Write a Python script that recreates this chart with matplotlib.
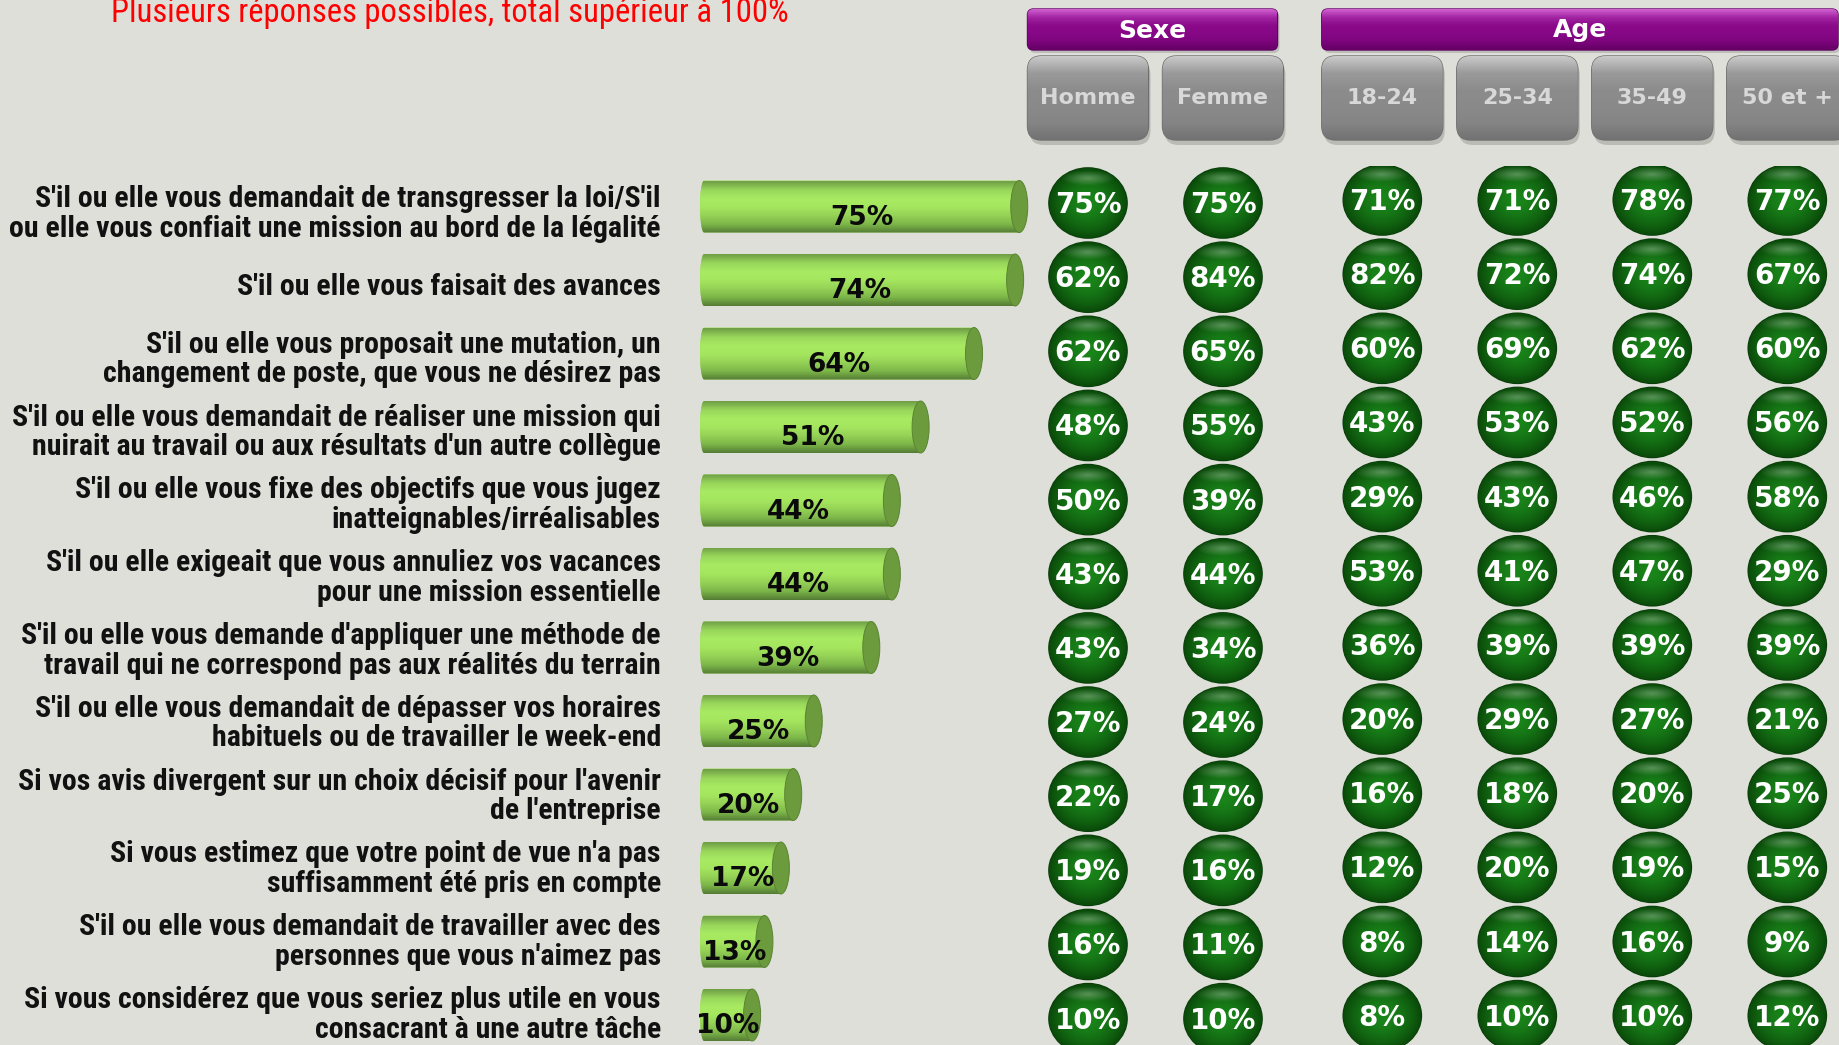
import matplotlib

matplotlib.use("Agg")
import matplotlib.pyplot as plt
import numpy as np
from matplotlib import font_manager
from matplotlib.colors import to_rgb
from matplotlib.patches import Ellipse, FancyBboxPatch, Polygon

# --- données --------------------------------------------------------------
questions = [
    "S'il ou elle vous demandait de transgresser la loi/S'il\nou elle vous confiait une mission au bord de la légalité",
    "S'il ou elle vous faisait des avances",
    "S'il ou elle vous proposait une mutation, un\nchangement de poste, que vous ne désirez pas",
    "S'il ou elle vous demandait de réaliser une mission qui\nnuirait au travail ou aux résultats d'un autre collègue",
    "S'il ou elle vous fixe des objectifs que vous jugez\ninatteignables/irréalisables",
    "S'il ou elle exigeait que vous annuliez vos vacances\npour une mission essentielle",
    "S'il ou elle vous demande d'appliquer une méthode de\ntravail qui ne correspond pas aux réalités du terrain",
    "S'il ou elle vous demandait de dépasser vos horaires\nhabituels ou de travailler le week-end",
    "Si vos avis divergent sur un choix décisif pour l'avenir\nde l'entreprise",
    "Si vous estimez que votre point de vue n'a pas\nsuffisamment été pris en compte",
    "S'il ou elle vous demandait de travailler avec des\npersonnes que vous n'aimez pas",
    "Si vous considérez que vous seriez plus utile en vous\nconsacrant à une autre tâche",
]
total = [75, 74, 64, 51, 44, 44, 39, 25, 20, 17, 13, 10]

homme = [75, 62, 62, 48, 50, 43, 43, 27, 22, 19, 16, 10]
femme = [75, 84, 65, 55, 39, 44, 34, 24, 17, 16, 11, 10]
age_18_24 = [71, 82, 60, 43, 29, 53, 36, 20, 16, 12, 8, 8]
age_25_34 = [71, 72, 69, 53, 43, 41, 39, 29, 18, 20, 14, 10]
age_35_49 = [78, 74, 62, 52, 46, 47, 39, 27, 20, 19, 16, 10]
age_50_plus = [77, 67, 60, 56, 58, 29, 39, 21, 25, 15, 9, 12]

col_labels = ["Homme", "Femme", "18-24", "25-34", "35-49", "50 et +"]
col_values = [homme, femme, age_18_24, age_25_34, age_35_49, age_50_plus]
group_labels = ["Sexe", "Age"]
group_sizes = [2, 4]
subtitle = "Plusieurs réponses possibles, total supérieur à 100%"

# --- mise en page (pixels de la figure) -------------------------------------
W, H = 1840, 1045
BG = "#dfdfda"
BAR_ROW0, BAR_ROW_H = 206.5, 73.5     # barres : centre 1re ligne, pas
CIRC_ROW0, CIRC_ROW_H = 203, 74.15    # bulles
LBL_ROW0, LBL_ROW_H, LBL_RIGHT = 214, 72.8, 661
BAR_ZERO, PX_PCT = 711, 4.11          # x du 0 %, pixels par point de %
COL0, COL_PX, GROUP_GAP = 1088, 135, 0.18
AGE_DY = -3                           # bulles "Age" un peu plus hautes


def pick_font(names):
    for n in names:
        try:
            font_manager.findfont(n, fallback_to_default=False)
            return n
        except ValueError:
            pass
    return "DejaVu Sans"


NARROW = pick_font(["Liberation Sans Narrow", "DejaVu Sans Condensed", "Roboto Condensed"])
BOLD = "DejaVu Sans"

fig = plt.figure(figsize=(W / 100, H / 100), dpi=100)
fig.patch.set_facecolor(BG)


def px_axes(left, right, top, bottom):
    ax = fig.add_axes([left / W, 1 - bottom / H, (right - left) / W, (bottom - top) / H])
    ax.set_axis_off()
    ax.patch.set_alpha(0)
    return ax


def vgrad(stops, n=64):
    cols = np.array([to_rgb(c) for c in stops])
    t = np.linspace(0, 1, n)
    xs = np.linspace(0, 1, len(stops))
    return np.stack([np.interp(t, xs, cols[:, k]) for k in range(3)], axis=-1)[:, None, :]


def shaded(ax, patch, stops, extent, z):
    patch.set_zorder(z)
    ax.add_patch(patch)
    im = ax.imshow(vgrad(stops), extent=extent, aspect="auto", origin="upper",
                   interpolation="bilinear", zorder=z + 0.1)
    im.set_clip_path(patch)


ax_bg = px_axes(0, W, 0, H)
ax_bg.set_xlim(0, W); ax_bg.set_ylim(H, 0)

n_rows = len(questions)

# --- libellés des questions ----------------------------------------------
for i, q in enumerate(questions):
    ax_bg.text(LBL_RIGHT, LBL_ROW0 + i * LBL_ROW_H, q, ha="right", va="center",
               multialignment="right", fontsize=21.5, weight="bold", family=NARROW,
               color="#111111", linespacing=1.08)

# --- barres cylindriques "Total" ------------------------------------------
BAR_AX_LEFT, BAR_AX_RIGHT = 600, 1060
top_px = BAR_ROW0 - BAR_ROW_H / 2
ax_bar = px_axes(BAR_AX_LEFT, BAR_AX_RIGHT, top_px, top_px + n_rows * BAR_ROW_H)
bar_h = 52 / BAR_ROW_H
x_left = -7 / PX_PCT
round_w = 4 / PX_PCT
cap_w = 17 / PX_PCT
bar_stops = ["#6f9e46", "#98d65a", "#a8ea62", "#a5e65f", "#95d256", "#7db749", "#557d35"]
for i, v in enumerate(total):
    t0, t1 = i - bar_h / 2, i + bar_h / 2
    th = np.linspace(np.pi / 2, 3 * np.pi / 2, 20)
    left_arc = [(x_left + round_w * np.cos(a), i - (bar_h / 2) * np.sin(a)) for a in th]
    verts = [(v, t0)] + left_arc + [(v, t1)]
    body = Polygon(verts, closed=True, facecolor="#9edc5c", edgecolor="none")
    shaded(ax_bar, body, bar_stops, (x_left - round_w, v, t1, t0), 2)
    cap = Ellipse((v, i), cap_w, bar_h, facecolor="#6c9b3e", edgecolor="#5a8432", lw=0.7, zorder=3)
    ax_bar.add_patch(cap)
    ax_bar.annotate(f"{v}%", ((x_left + v) / 2, i), xytext=(0, -11), textcoords="offset pixels",
                    ha="center", va="center", fontsize=19, weight="bold", family=BOLD,
                    color="#0a0a0a", zorder=5, annotation_clip=False)
ax_bar.set_xlim((BAR_AX_LEFT - BAR_ZERO) / PX_PCT, (BAR_AX_RIGHT - BAR_ZERO) / PX_PCT)
ax_bar.set_ylim(n_rows - 0.5, -0.5)

# --- bulles par sous-population -------------------------------------------
ctop = CIRC_ROW0 - CIRC_ROW_H / 2
ax_circ = px_axes(1000, W, ctop, ctop + n_rows * CIRC_ROW_H)
col_pos, col_group = [], []
start = 0.0
for g, size in enumerate(group_sizes):
    col_pos += [start + k for k in range(size)]
    col_group += [g] * size
    start += size + GROUP_GAP

n = 90
yy, xx = np.mgrid[-1:1:n * 1j, -1:1:n * 1j]
r = np.clip(np.hypot(xx, yy), 0, 1)
c_in, c_out = np.array(to_rgb("#1a861a")), np.array(to_rgb("#0a4a0a"))
t = r ** 1.7
img = c_in * (1 - t)[..., None] + c_out * t[..., None]
gloss = np.clip(1 - np.hypot(xx / 0.7, (yy + 0.72) / 0.22), 0, 1)
img = img + (1 - img) * 0.30 * gloss[..., None]
ew, eh = 78 / COL_PX, 70 / CIRC_ROW_H
for x, g, vals in zip(col_pos, col_group, col_values):
    dy = AGE_DY / CIRC_ROW_H if g == 1 else 0.0
    for i, v in enumerate(vals):
        y = i + dy
        e = Ellipse((x, y), ew, eh, facecolor="#136f13", edgecolor="#093d09", lw=1.2, zorder=2)
        ax_circ.add_patch(e)
        im = ax_circ.imshow(img, extent=(x - ew / 2, x + ew / 2, y + eh / 2, y - eh / 2),
                            aspect="auto", origin="upper", interpolation="bilinear", zorder=2.1)
        im.set_clip_path(e)
        ax_circ.annotate(f"{v}%", (x, y), xytext=(0, -2), textcoords="offset pixels",
                         ha="center", va="center", fontsize=20, weight="bold",
                         family=BOLD, color="white", zorder=4)
ax_circ.set_xlim((1000 - COL0) / COL_PX, (W - COL0) / COL_PX)
ax_circ.set_ylim(n_rows - 0.5, -0.5)

# --- en-têtes (Sexe / Age, puis sous-colonnes) -----------------------------
col_px = [ax_circ.transData.transform((x, 0))[0] for x in col_pos]
box_w, box_top, box_bot = 121, 56, 140
for lbl, cx in zip(col_labels, col_px):
    sh = FancyBboxPatch((cx - box_w / 2 + 2, box_top + 5), box_w, box_bot - box_top,
                        boxstyle="round,pad=0,rounding_size=14", facecolor="black",
                        edgecolor="none", alpha=0.16, zorder=1)
    ax_bg.add_patch(sh)
    box = FancyBboxPatch((cx - box_w / 2, box_top), box_w, box_bot - box_top,
                         boxstyle="round,pad=0,rounding_size=14", facecolor="#8c8c8c",
                         edgecolor="#6e6e6e", lw=1.0)
    shaded(ax_bg, box, ["#c9c9c9", "#9a9a9a", "#8c8c8c", "#8a8a8a", "#858585", "#727272"],
           (cx - box_w / 2, cx + box_w / 2, box_bot, box_top), 2)
    ax_bg.text(cx, (box_top + box_bot) / 2, lbl, ha="center", va="center", fontsize=16,
               weight="bold", family=BOLD, color="#d8d8d8", zorder=4)

k = 0
for g, size in zip(group_labels, group_sizes):
    x0 = col_px[k] - box_w / 2
    x1 = min(col_px[k + size - 1] + box_w / 2 - 6, W - 2)
    k += size
    ptop, pbot = 9, 50
    sh = FancyBboxPatch((x0 + 2, ptop + 3), x1 - x0, pbot - ptop,
                        boxstyle="round,pad=0,rounding_size=6", facecolor="black",
                        edgecolor="none", alpha=0.15, zorder=1)
    ax_bg.add_patch(sh)
    pbox = FancyBboxPatch((x0, ptop), x1 - x0, pbot - ptop,
                          boxstyle="round,pad=0,rounding_size=6", facecolor="#870887",
                          edgecolor="#640064", lw=1.0)
    shaded(ax_bg, pbox, ["#d060d0", "#a224a2", "#8a0a8a", "#870887", "#7c047c", "#640064"],
           (x0, x1, pbot, ptop), 2)
    ax_bg.text((x0 + x1) / 2, (ptop + pbot) / 2 + 1, g, ha="center", va="center", fontsize=18,
               weight="bold", family=BOLD, color="white", zorder=4)

fig.text(111 / W, 1 - 22 / H, subtitle, ha="left", va="baseline", fontsize=23.5,
         family=NARROW, color="#ff0000")

fig.savefig("out.png", dpi=100, facecolor=BG)
